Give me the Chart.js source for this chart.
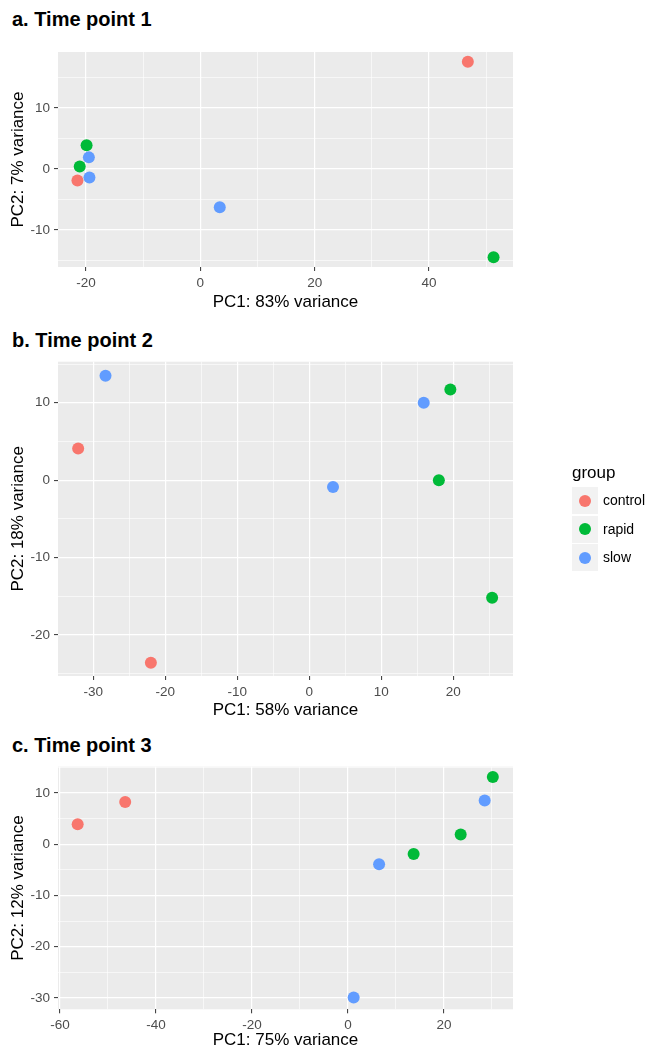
<!DOCTYPE html>
<html>
<head>
<meta charset="utf-8">
<script src="https://cdn.jsdelivr.net/npm/chart.js@4.4.0/dist/chart.umd.min.js"></script>
<style>
  body { margin: 0; background: #fff; width: 647px; height: 1050px; position: relative; overflow: hidden;
         font-family: "Liberation Sans", Arial, Helvetica, sans-serif; }
  canvas { position: absolute; left: 0; }
  .title { position: absolute; left: 12px; font-weight: bold; font-size: 20px; line-height: 24px; color: #000; }
  .legend { position: absolute; left: 572px; top: 462px; color: #000; }
  .legend .head { font-size: 17px; line-height: 22px; height: 25px; }
  .legend .row { height: 28.5px; position: relative; }
  .legend .key { position: absolute; left: 0; top: 0; width: 26px; height: 27px; background: #F2F2F2; }
  .legend .dot { position: absolute; left: 7px; top: 7.5px; width: 12px; height: 12px; border-radius: 50%; }
  .legend .lab { position: absolute; left: 31px; top: 0; font-size: 14px; line-height: 27px; }
</style>
</head>
<body>
<div class="title" style="top:7px">a. Time point 1</div>
<div class="title" style="top:327.5px">b. Time point 2</div>
<div class="title" style="top:733px">c. Time point 3</div>
<canvas id="tp1" width="647" height="318" style="top:0px"></canvas>
<canvas id="tp2" width="647" height="406" style="top:318px"></canvas>
<canvas id="tp3" width="647" height="326" style="top:724px"></canvas>
<div class="legend" id="legend"></div>

<script>
// groups and colours (ggplot default hues)
const groups = ['control', 'rapid', 'slow'];
const groupColors = ['#F8766D', '#00BA38', '#619CFF'];

// Time point 1  [PC1, PC2]
const t1Control = [[46.8, 17.6], [-21.5, -1.9]];
const t1Rapid = [[51.3, -14.5], [-19.9, 3.9], [-21.1, 0.4]];
const t1Slow = [[-19.5, 1.9], [-19.4, -1.4], [3.4, -6.3]];
const t1XTicks = [-20, 0, 20, 40];
const t1XMinor = [-10, 10, 30, 50];
const t1YTicks = [-10, 0, 10];
const t1YMinor = [-15, -5, 5, 15];
const t1XRange = [-24.9, 54.7];
const t1YRange = [-16.1, 19.2];

// Time point 2
const t2Control = [[-32.1, 4.1], [-22.0, -23.6]];
const t2Rapid = [[19.6, 11.7], [18.0, 0.0], [25.4, -15.2]];
const t2Slow = [[-28.3, 13.5], [3.3, -0.9], [15.9, 10.0]];
const t2XTicks = [-30, -20, -10, 0, 10, 20];
const t2XMinor = [-25, -15, -5, 5, 15, 25];
const t2YTicks = [-20, -10, 0, 10];
const t2YMinor = [-25, -15, -5, 5, 15];
const t2XRange = [-34.9, 28.3];
const t2YRange = [-25.3, 15.3];

// Time point 3
const t3Control = [[-56.3, 3.9], [-46.4, 8.2]];
const t3Rapid = [[13.7, -1.9], [23.5, 1.9], [30.2, 13.1]];
const t3Slow = [[6.5, -3.9], [28.5, 8.5], [1.2, -29.9]];
const t3XTicks = [-60, -40, -20, 0, 20];
const t3XMinor = [-50, -30, -10, 10, 30];
const t3YTicks = [-30, -20, -10, 0, 10];
const t3YMinor = [-25, -15, -5, 5, 15];
const t3XRange = [-60.4, 34.4];
const t3YRange = [-32.2, 15.1];

const FONT = '"Liberation Sans", Arial, Helvetica, sans-serif';

// grey panel behind the grid
const panelBackground = {
    id: 'panelBackground',
    beforeDraw(chart) {
        const { ctx, chartArea: a } = chart;
        ctx.save();
        ctx.fillStyle = '#EBEBEB';
        ctx.fillRect(a.left, a.top, a.right - a.left, a.bottom - a.top);
        ctx.restore();
    }
};

function axis(range, major, minor, title, fit, titlePad) {
    const isMajor = c => c.tick && major.includes(c.tick.value);
    return {
        type: 'linear',
        min: range[0],
        max: range[1],
        afterBuildTicks: s => {
            s.ticks = major.concat(minor).sort((p, q) => p - q).map(v => ({ value: v }));
        },
        afterFit: fit,
        border: { display: false },
        grid: {
            color: '#FFFFFF',
            lineWidth: c => isMajor(c) ? 1.2 : 0.6,
            tickColor: c => isMajor(c) ? '#333333' : 'rgba(0,0,0,0)',
            tickLength: 4,
            tickWidth: 1
        },
        ticks: {
            autoSkip: false,
            maxRotation: 0,
            padding: 4,
            color: '#4D4D4D',
            font: { family: FONT, size: 13.5 },
            callback: v => major.includes(v) ? String(v) : ''
        },
        title: { display: true, text: title, color: '#000', font: { family: FONT, size: 17 }, padding: titlePad }
    };
}

function makePanel(id, control, rapid, slow, p) {
    const sets = [control, rapid, slow];
    new Chart(document.getElementById(id), {
        type: 'scatter',
        data: {
            datasets: sets.map((pts, i) => ({
                label: groups[i],
                data: pts.map(d => ({ x: d[0], y: d[1] })),
                backgroundColor: groupColors[i],
                borderWidth: 0,
                pointRadius: 6,
                pointHoverRadius: 6
            }))
        },
        options: {
            responsive: false,
            animation: false,
            layout: { padding: { top: p.plotTop, right: 134, bottom: 0, left: 0 } },
            plugins: { legend: { display: false }, tooltip: { enabled: false } },
            scales: {
                x: axis(p.xRange, p.xTicks, p.xMinor, p.xTitle, s => { s.height = p.xAxisH; }, { top: 0, bottom: p.xTitlePad }),
                y: axis(p.yRange, p.yTicks, p.yMinor, p.yTitle, s => { s.width = 58; }, { top: 8.1, bottom: 0 })
            }
        },
        plugins: [panelBackground]
    });
}

makePanel('tp1', t1Control, t1Rapid, t1Slow, {
    xRange: t1XRange, yRange: t1YRange, xTicks: t1XTicks, xMinor: t1XMinor, yTicks: t1YTicks, yMinor: t1YMinor,
    xTitle: 'PC1: 83% variance', yTitle: 'PC2: 7% variance', plotTop: 52, xAxisH: 51, xTitlePad: 5.8
});
makePanel('tp2', t2Control, t2Rapid, t2Slow, {
    xRange: t2XRange, yRange: t2YRange, xTicks: t2XTicks, xMinor: t2XMinor, yTicks: t2YTicks, yMinor: t2YMinor,
    xTitle: 'PC1: 58% variance', yTitle: 'PC2: 18% variance', plotTop: 43.7, xAxisH: 48, xTitlePad: 3.8
});
makePanel('tp3', t3Control, t3Rapid, t3Slow, {
    xRange: t3XRange, yRange: t3YRange, xTicks: t3XTicks, xMinor: t3XMinor, yTicks: t3YTicks, yMinor: t3YMinor,
    xTitle: 'PC1: 75% variance', yTitle: 'PC2: 12% variance', plotTop: 42.7, xAxisH: 40.7, xTitlePad: -1
});

// legend next to panel b
const legend = document.getElementById('legend');
legend.innerHTML = '<div class="head">group</div>' + groups.map((g, i) =>
    '<div class="row"><div class="key"><div class="dot" style="background:' + groupColors[i] + '"></div></div>' +
    '<div class="lab">' + g + '</div></div>').join('');
</script>
</body>
</html>
